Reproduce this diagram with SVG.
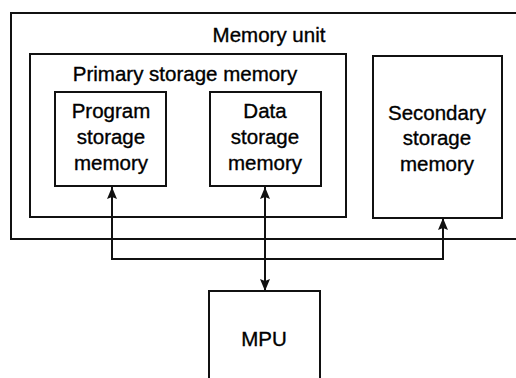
<svg xmlns="http://www.w3.org/2000/svg" width="516" height="378" viewBox="0 0 516 378">
<style>
.box{fill:none;stroke:#111;stroke-width:2}
.lbl{font-family:"Liberation Sans",Arial,sans-serif;font-size:20.5px;fill:#000;stroke:#000;stroke-width:0.35;text-anchor:middle}
.wire{fill:none;stroke:#111;stroke-width:2}
</style>
<defs>
<marker id="ah" viewBox="0 0 12 10" refX="12" refY="5" markerWidth="12" markerHeight="10" markerUnits="userSpaceOnUse" orient="auto-start-reverse">
<path d="M0,0 L12,5 L0,10 L2,5 Z" fill="#111"/>
</marker>
</defs>
<rect width="516" height="378" fill="#fff"/>
<g id="memory-unit">
<rect class="box" x="11" y="13" width="520" height="226"/>
<text class="lbl" x="269" y="42">Memory unit</text>
</g>
<g id="primary-storage">
<rect class="box" x="30" y="54" width="316" height="163"/>
<text class="lbl" x="185" y="81">Primary storage memory</text>
</g>
<g id="program-storage">
<rect class="box" x="55" y="92" width="111" height="94"/>
<text class="lbl" x="111" y="118">Program</text>
<text class="lbl" x="111" y="144">storage</text>
<text class="lbl" x="111" y="170">memory</text>
</g>
<g id="data-storage">
<rect class="box" x="210" y="92" width="111" height="94"/>
<text class="lbl" x="265" y="118">Data</text>
<text class="lbl" x="265" y="144">storage</text>
<text class="lbl" x="265" y="170">memory</text>
</g>
<g id="secondary-storage">
<rect class="box" x="373" y="56" width="129" height="162"/>
<text class="lbl" x="437" y="120">Secondary</text>
<text class="lbl" x="437" y="145">storage</text>
<text class="lbl" x="437" y="171">memory</text>
</g>
<g id="mpu">
<rect class="box" x="209" y="291" width="111" height="100"/>
<text class="lbl" x="264" y="346">MPU</text>
</g>
<g id="connectors">
<path class="wire" d="M112,187 L112,259 L443,259 L443,218" marker-start="url(#ah)" marker-end="url(#ah)"/>
<path class="wire" d="M265,187 L265,291" marker-start="url(#ah)" marker-end="url(#ah)"/>
</g>
</svg>
